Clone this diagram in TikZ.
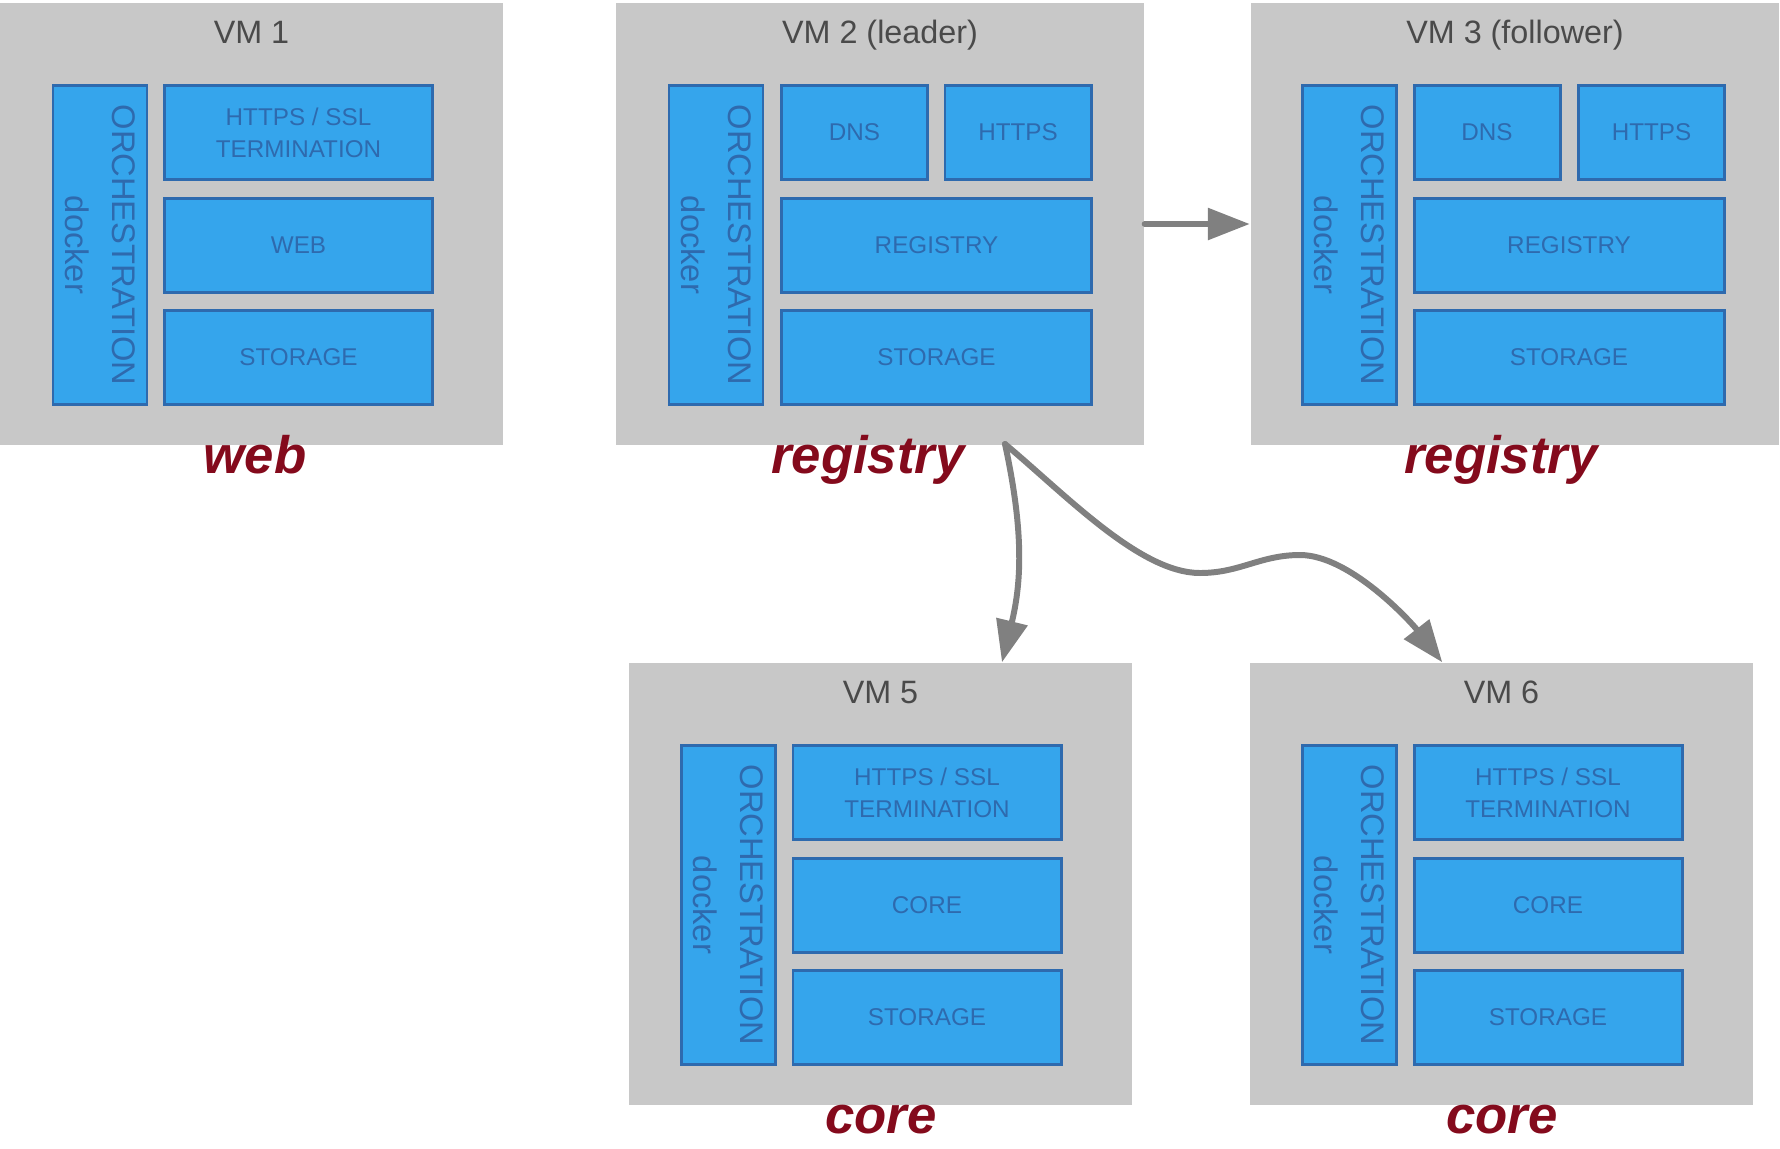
\documentclass[tikz,border=0pt]{standalone}
\usepackage{fontspec}
\setmainfont{Liberation Sans}
\usepackage{tikz}
\usetikzlibrary{arrows.meta}
\usetikzlibrary{positioning}
\definecolor{vmgrey}{HTML}{C8C8C8}
\definecolor{boxblue}{HTML}{35A5EC}
\definecolor{boxedge}{HTML}{2E6AAE}
\definecolor{titlegrey}{HTML}{4A4A4A}
\definecolor{rolered}{HTML}{840A1C}
\definecolor{arrowgrey}{HTML}{808080}
\tikzstyle{vm} = [rectangle, fill=vmgrey, inner sep=0pt,
minimum width=5.03cm, minimum height=4.42cm]
\tikzstyle{vmwide} = [vm, minimum width=5.28cm]
\tikzstyle{vmtitle} = [text=titlegrey, anchor=base, font=\fontsize{9.2}{11}\selectfont]
\tikzstyle{service} = [rectangle, draw=boxedge, fill=boxblue, line width=0.85pt,
text=boxedge, align=center, inner sep=0pt, font=\fontsize{6.9}{9.1}\selectfont,
minimum width=2.68cm, minimum height=0.94cm]
\tikzstyle{servicewide} = [service, minimum width=3.10cm]
\tikzstyle{servicehalf} = [service, minimum width=1.46cm]
\tikzstyle{docker} = [service, rotate=-90, font=\fontsize{9.3}{13.4}\selectfont,
minimum width=3.19cm, minimum height=0.94cm]
\tikzstyle{role} = [text=rolered, anchor=base, font=\fontsize{15}{18}\selectfont\bfseries\itshape]
\tikzstyle{line} = [draw=arrowgrey, line width=1.7pt, line cap=round,
-{Triangle[length=0.42cm, width=0.31cm]}]

\begin{document}
\begin{tikzpicture}
	\useasboundingbox (0,0) rectangle (17.80,-11.48);
	\node [vm] at (2.515,-2.24) (vm1) {};
	\node [vmtitle] at (2.515,-0.43) (vm1title) {VM 1};
	\node [docker] at (1.00,-2.45) (vm1docker) {ORCHESTRATION\\docker};
	\node [service] at (2.985,-1.325) (vm1https) {HTTPS / SSL\\TERMINATION};
	\node [service] at (2.985,-2.455) (vm1web) {WEB};
	\node [service] at (2.985,-3.575) (vm1storage) {STORAGE};
	\node [role] at (2.55,-4.73) (vm1role) {web};

	\node [vmwide] at (8.80,-2.24) (vm2) {};
	\node [vmtitle] at (8.80,-0.43) (vm2title) {VM 2 (leader)};
	\node [docker] at (7.16,-2.45) (vm2docker) {ORCHESTRATION\\docker};
	\node [servicehalf] at (8.545,-1.325) (vm2dns) {DNS};
	\node [servicehalf] at (10.18,-1.325) (vm2https) {HTTPS};
	\node [servicewide] at (9.365,-2.455) (vm2registry) {REGISTRY};
	\node [servicewide] at (9.365,-3.575) (vm2storage) {STORAGE};
	\node [role] at (8.68,-4.73) (vm2role) {registry};

	\node [vmwide] at (15.145,-2.24) (vm3) {};
	\node [vmtitle] at (15.15,-0.43) (vm3title) {VM 3 (follower)};
	\node [docker] at (13.495,-2.45) (vm3docker) {ORCHESTRATION\\docker};
	\node [servicehalf] at (14.87,-1.325) (vm3dns) {DNS};
	\node [servicehalf] at (16.515,-1.325) (vm3https) {HTTPS};
	\node [servicewide] at (15.69,-2.455) (vm3registry) {REGISTRY};
	\node [servicewide] at (15.69,-3.575) (vm3storage) {STORAGE};
	\node [role] at (15.01,-4.73) (vm3role) {registry};

	\node [vm] at (8.805,-8.84) (vm5) {};
	\node [vmtitle] at (8.805,-7.03) (vm5title) {VM 5};
	\node [docker] at (7.285,-9.05) (vm5docker) {ORCHESTRATION\\docker};
	\node [service] at (9.27,-7.925) (vm5https) {HTTPS / SSL\\TERMINATION};
	\node [service] at (9.27,-9.055) (vm5core) {CORE};
	\node [service] at (9.27,-10.175) (vm5storage) {STORAGE};
	\node [role] at (8.81,-11.33) (vm5role) {core};

	\node [vm] at (15.015,-8.84) (vm6) {};
	\node [vmtitle] at (15.015,-7.03) (vm6title) {VM 6};
	\node [docker] at (13.495,-9.05) (vm6docker) {ORCHESTRATION\\docker};
	\node [service] at (15.48,-7.925) (vm6https) {HTTPS / SSL\\TERMINATION};
	\node [service] at (15.48,-9.055) (vm6core) {CORE};
	\node [service] at (15.48,-10.175) (vm6storage) {STORAGE};
	\node [role] at (15.02,-11.33) (vm6role) {core};

	\coordinate (fork) at (10.05,-4.44);
	\path [line] (vm2.east) -- (vm3.west);
	\path [line] (fork) to[bend left=13] ([xshift=-0.03cm]fork |- vm5.north);
	\path [line] (fork) .. controls (10.66,-4.95) and (11.40,-5.73) .. (12.00,-5.73)
		.. controls (12.40,-5.73) and (12.60,-5.55) .. (13.00,-5.55)
		.. controls (13.50,-5.55) and (14.11,-6.22) .. ([xshift=1.93cm]vm6.north west);
\end{tikzpicture}
\end{document}
